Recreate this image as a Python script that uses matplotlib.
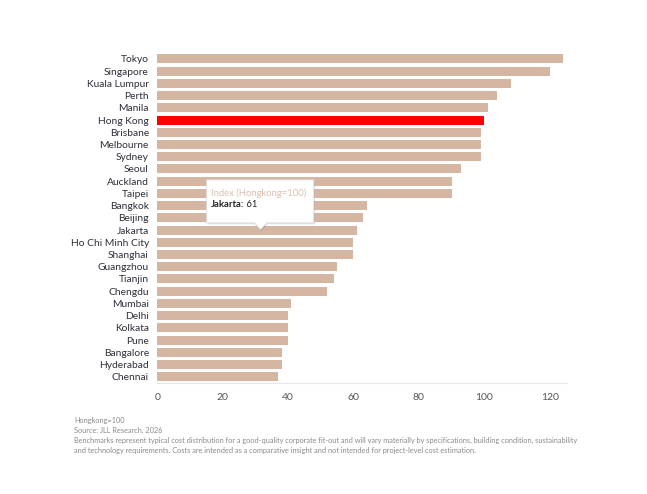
import matplotlib
matplotlib.use("Agg")
import matplotlib.pyplot as plt
from matplotlib.patches import Polygon

plt.rcParams['font.family'] = ['Lato', 'DejaVu Sans']

cities = ["Tokyo", "Singapore", "Kuala Lumpur", "Perth", "Manila", "Hong Kong",
          "Brisbane", "Melbourne", "Sydney", "Seoul", "Auckland", "Taipei",
          "Bangkok", "Beijing", "Jakarta", "Ho Chi Minh City", "Shanghai",
          "Guangzhou", "Tianjin", "Chengdu", "Mumbai", "Delhi", "Kolkata",
          "Pune", "Bangalore", "Hyderabad", "Chennai"]
values = [124, 120, 108, 104, 101, 100, 99, 99, 99, 93, 90, 90,
          64, 63, 61, 60, 60, 55, 54, 52, 41, 40, 40, 40, 38, 38, 37]
highlight = "Hong Kong"
xticks = [0, 20, 40, 60, 80, 100, 120]
footnotes = [
    "Hongkong=100",
    "Source: JLL Research, 2026",
    "Benchmarks represent typical cost distribution for a good-quality corporate fit-out and will vary materially by specifications, building condition, sustainability",
    "and technology requirements. Costs are intended as a comparative insight and not intended for project-level cost estimation.",
]
tooltip_city = "Jakarta"
tooltip_title = "Index (Hongkong=100)"

BAR = "#D5B6A3"
RED = "#FF0000"
TXT = "#2E2E38"

fig = plt.figure(figsize=(6.47, 4.94), dpi=100)
ax = fig.add_axes([0.243, 0.225, 0.633, 0.668])

ypos = list(range(len(cities)))
colors = [RED if c == highlight else BAR for c in cities]
ax.barh(ypos, values, height=0.74, color=colors, edgecolor="none")
ax.set_ylim(len(cities) - 0.5, -0.5)
ax.set_xlim(0, 125.2)
ax.set_yticks(ypos)
ax.set_yticklabels(cities, fontsize=7.35, color=TXT)
ax.set_xticks(xticks)
ax.set_xticklabels([str(t) for t in xticks], fontsize=7.5, color="#555555")
ax.tick_params(axis='y', length=0, pad=6)
ax.tick_params(axis='x', length=0, pad=7)
for s in ["top", "right", "left"]:
    ax.spines[s].set_visible(False)
ax.spines["bottom"].set_color("#E6E6E6")
ax.spines["bottom"].set_linewidth(0.8)

# tooltip
ti = cities.index(tooltip_city)
tv = values[ti]
tx0, tx1 = 15.1, 47.9
ty0, ty1 = 9.89, 13.41
tip_x, tip_y = 31.6, ti - 0.05
pts = [(tx0, ty1), (tx0, ty0), (tx1, ty0), (tx1, ty1),
       (tip_x + 1.9, ty1), (tip_x, tip_y), (tip_x - 1.9, ty1)]
shadow = Polygon([(x + 0.35, y + 0.12) for x, y in pts], closed=True,
                 facecolor="#000000", alpha=0.10, edgecolor="none", zorder=4)
ax.add_patch(shadow)
box = Polygon(pts, closed=True, facecolor="white", edgecolor="#DADADA",
              linewidth=0.6, zorder=5)
ax.add_patch(box)
ax.text(tx0 + 1.3, 10.96, tooltip_title, fontsize=6.8, color="#DDBFAE",
        va="center", ha="left", zorder=6)
t1 = ax.text(tx0 + 1.3, 11.9, tooltip_city + ":", fontsize=6.8, color="#222222",
             fontweight="bold", va="center", ha="left", zorder=6)
ax.annotate(" " + str(tv), xycoords=t1, xy=(1, 0.5), va="center", ha="left",
            fontsize=6.8, color="#222222", zorder=6)

y = 1 - 420 / 494
for line in footnotes:
    fig.text(74 / 647, y, line, fontsize=5.3, color="#8A8A8A", va="center", ha="left")
    y -= 10 / 494

fig.savefig("out.png", dpi=100, facecolor="white")
